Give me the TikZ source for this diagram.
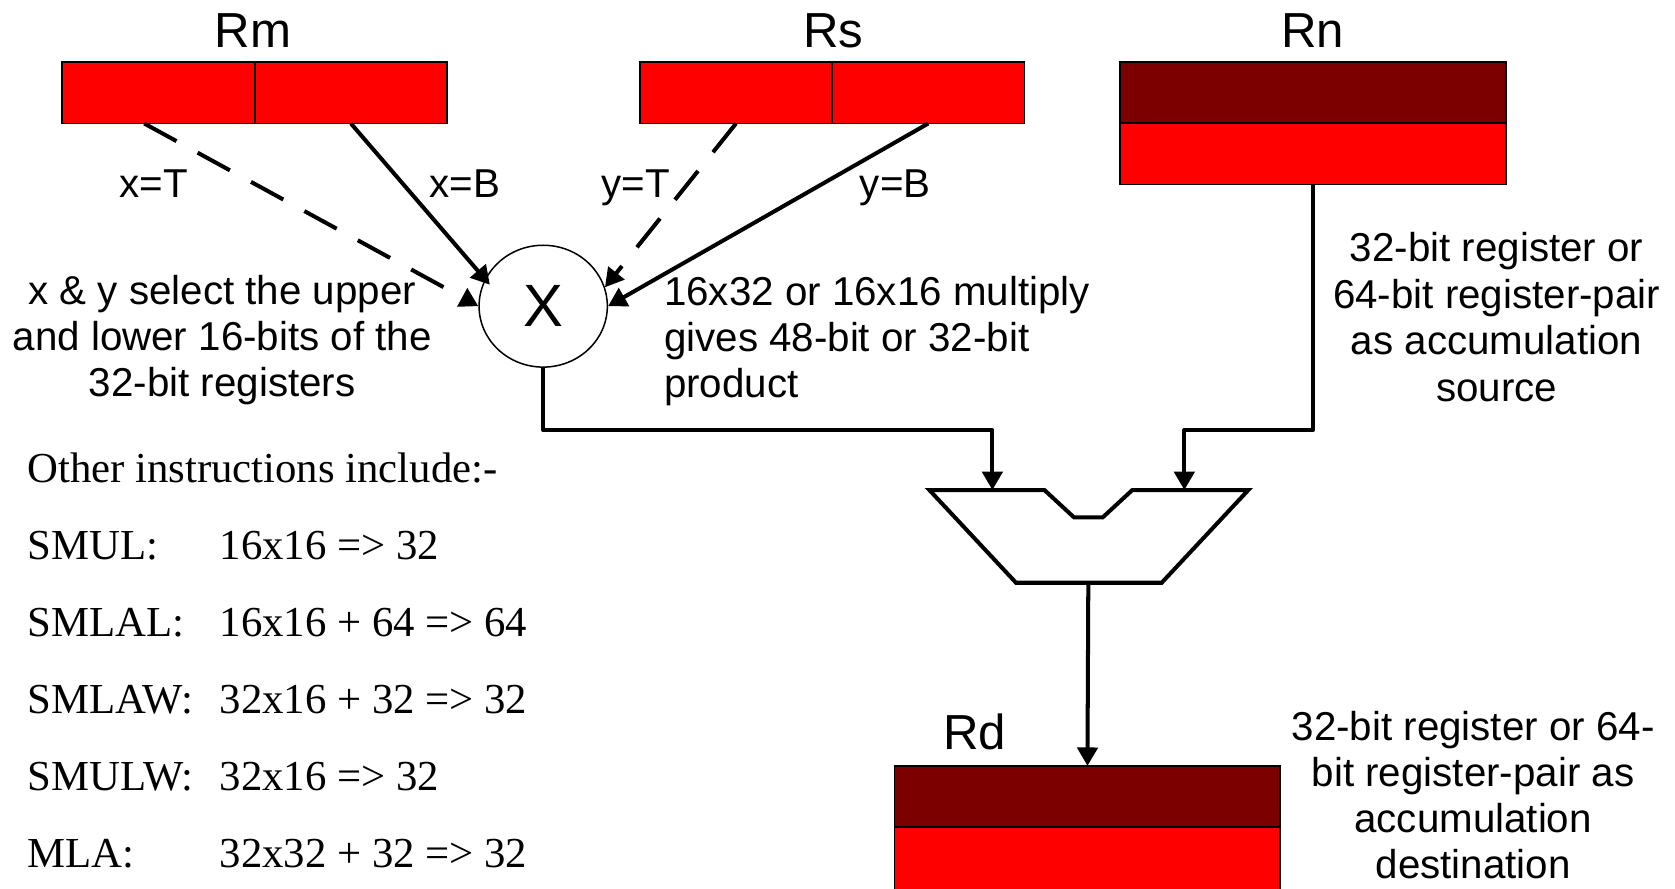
\documentclass[tikz,border=0pt]{standalone}
\usepackage{fontspec}
\setmainfont{Liberation Serif}
\newfontfamily\arialfont{Liberation Sans}
\usetikzlibrary{arrows.meta,shapes.geometric,calc}
\definecolor{regred}{RGB}{255,0,0}
\definecolor{regdark}{RGB}{125,0,0}
\begin{document}
\begin{tikzpicture}[x=0.01cm,y=-0.01cm,
  reg/.style={draw=black,line width=0.5pt,fill=regred,minimum width=1.8cm,minimum height=0.571cm,inner sep=0pt,outer sep=0pt},
  regpair/.style={reg,minimum width=3.61cm},
  title/.style={font=\arialfont\fontsize{13.1}{15}\selectfont,anchor=base,inner sep=0pt},
  note/.style={font=\arialfont\fontsize{10.73}{12.25}\selectfont,inner sep=0pt,align=center,anchor=north},
  sel/.style={font=\arialfont\fontsize{10.73}{12.1}\selectfont,inner sep=0pt,anchor=base},
  instr/.style={font=\fontsize{11.38}{13}\selectfont,anchor=base west,inner sep=0pt},
  wire/.style={line width=1.07pt,line join=round,-{Triangle[length=4.9pt,width=5.4pt]}},
  dwire/.style={wire,dash pattern=on 9.8pt off 6.4pt},
]
\useasboundingbox (0,0) rectangle (1568,832);
% registers
\node[reg] (rmHi) at (148.5,87) {};
\node[reg] (rmLo) at (328.5,87) {};
\node[reg] (rsHi) at (689,87) {};
\node[reg] (rsLo) at (869,87) {};
\node[regpair,fill=regdark] (rnHi) at (1229.2,87) {};
\node[regpair] (rnLo) at (1229.2,144.1) {};
\node[regpair,fill=regdark] (rdHi) at (1018,745.5) {};
\node[regpair,minimum height=0.6cm] (rdLo) at (1018,804) {};
% titles
\node[title] (rmT) at (237,44) {Rm};
\node[title] (rsT) at (780,44) {Rs};
\node[title] (rnT) at (1229,44) {Rn};
\node[title] (rdT) at (912.5,702) {Rd};
% multiplier
\node[draw,ellipse,line width=0.4pt,minimum width=1.2cm,minimum height=1.14cm,inner sep=0pt,
      font=\arialfont\fontsize{15.9}{18}\selectfont] (X) at (508.5,286.6) {X};
% adder
\coordinate (inA) at (929,458.7);
\coordinate (inB) at (1108.7,458.7);
\coordinate (addOut) at (1018.8,545.5);
\coordinate (busY) at (0,402.5);
\draw[line width=1.07pt] (870,458.7) -- (977.7,458.7) -- (1005.4,484.3) -- (1032.3,484.3)
  -- (1060,458.7) -- (1168.6,458.7) -- (1087.5,545.5) -- (951.1,545.5) -- cycle;
% connectors
\draw[dwire] ([xshift=-0.135cm]rmHi.south) -- (X.west);
\draw[wire,shorten >=-2pt] (rmLo.south) -- (X.155);
\draw[dwire] (rsHi.south) -- (X.17);
\draw[wire] (rsLo.south) -- (X.east);
\draw[wire] (X.south) |- (inA |- busY) -- (inA);
\draw[wire] (rnLo.south) |- (inB |- busY) -- (inB);
\draw[wire] (addOut) -- (rdHi.north);
% labels
\node[sel] (lxT) at (144,185) {x=T};
\node[sel] (lxB) at (435,185) {x=B};
\node[sel] (lyT) at (595,185) {y=T};
\node[sel] (lyB) at (838,185) {y=B};
\node[note] (selNote) at (208,256.6) {x \& y select the upper\\and lower 16-bits of the\\32-bit registers};
\node[note,align=left,anchor=north west] (mulNote) at (621,258) {16x32 or 16x16 multiply\\gives 48-bit or 32-bit\\product};
\node[note,font=\arialfont\fontsize{10.73}{12.4}\selectfont] (srcNote) at (1401,217) {32-bit register or\\64-bit register-pair\\as accumulation\\source};
\node[note] (dstNote) at (1379,665) {32-bit register or 64-\\bit register-pair as\\accumulation\\destination};
% instruction list
\node[instr] (oth) at (25,452) {Other instructions include:-};
\node[instr] (i1a) at (25,524) {SMUL:};
\node[instr] (i1b) at (205,524) {16x16 => 32};
\node[instr] (i2a) at (25,596) {SMLAL:};
\node[instr] (i2b) at (205,596) {16x16 + 64 => 64};
\node[instr] (i3a) at (25,668) {SMLAW:};
\node[instr] (i3b) at (205,668) {32x16 + 32 => 32};
\node[instr] (i4a) at (25,740) {SMULW:};
\node[instr] (i4b) at (205,740) {32x16 => 32};
\node[instr] (i5a) at (25,812) {MLA:};
\node[instr] (i5b) at (205,812) {32x32 + 32 => 32};
\end{tikzpicture}
\end{document}
